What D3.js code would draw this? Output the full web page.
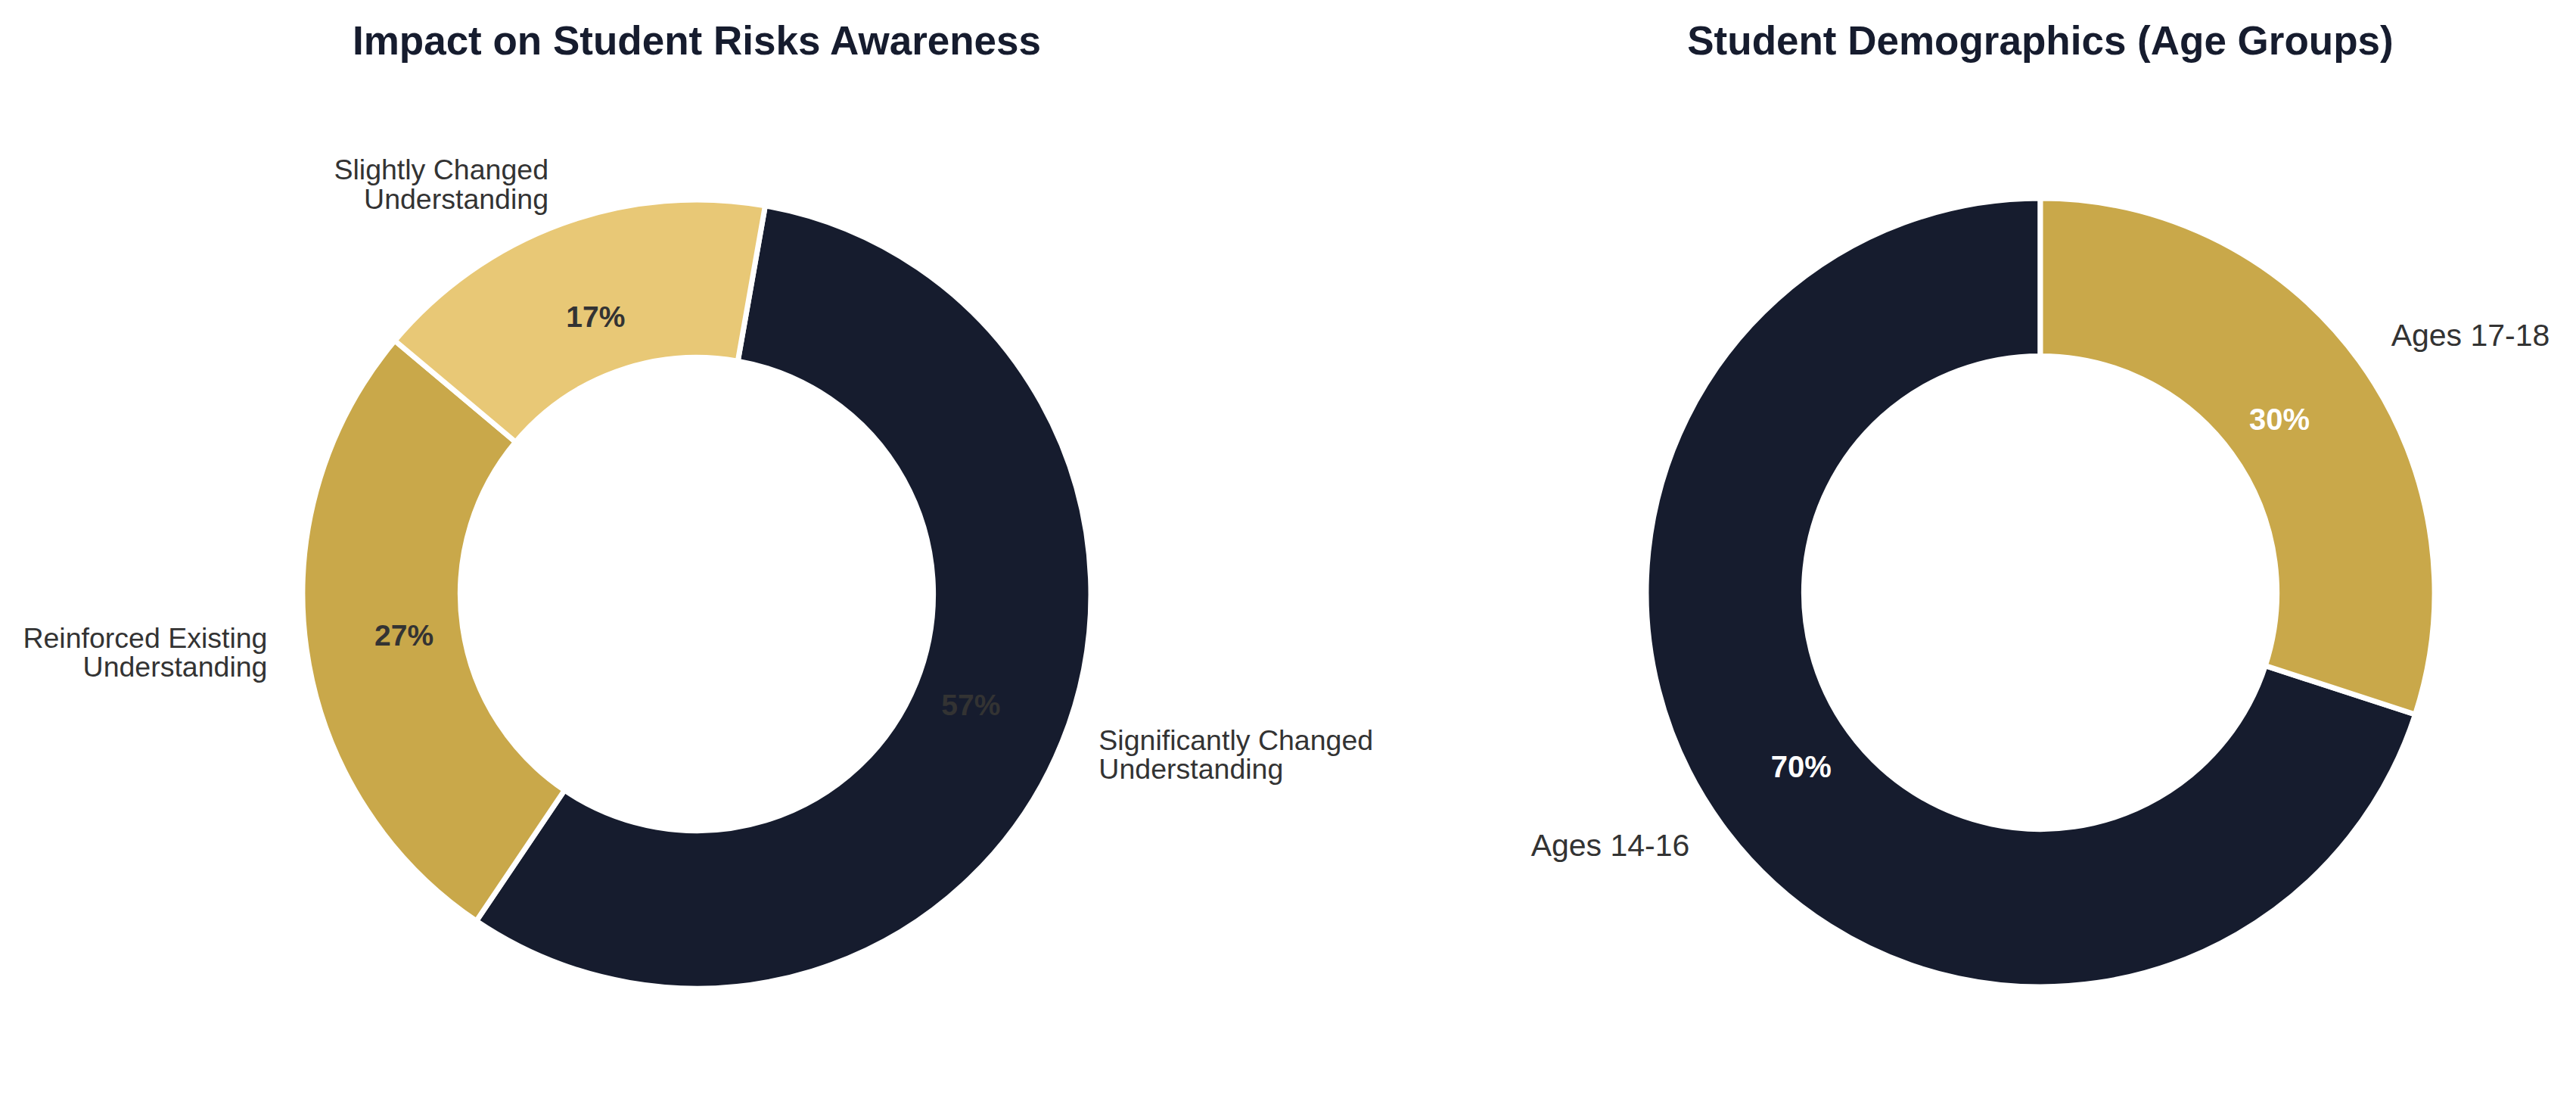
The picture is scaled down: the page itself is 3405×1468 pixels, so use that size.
<!DOCTYPE html>
<html>
<head>
<meta charset="utf-8">
<script src="https://cdn.jsdelivr.net/npm/d3@7"></script>
<style>
  body { margin: 0; background: #fff; }
  text { font-family: "Liberation Sans", Arial, sans-serif; }
</style>
</head>
<body>
<div id="chart"></div>
<script>
var width = 3405,
	height = 1468;

// left donut: impact on risk awareness (counts out of 30 students)
var impactCategories = ['Significantly Changed\nUnderstanding', 'Reinforced Existing\nUnderstanding', 'Slightly Changed\nUnderstanding'];
var impactValues = [17, 8, 5];

// right donut: age groups (percent)
var ageCategories = ['Ages 14-16', 'Ages 17-18'];
var ageValues = [70, 30];

var navy = '#161c2e',
	gold = '#c9a84a',
	lightGold = '#e8c876';

var svg = d3.select('#chart').append('svg')
	.attr('width', width)
	.attr('height', height)
	.style('background', '#fff');

var deg = Math.PI / 180;

function drawDonut(opts) {
	var g = svg.append('g')
		.attr('transform', 'translate(' + opts.cx + ',' + opts.cy + ')');

	var r = opts.radius;

	var pie = d3.pie()
		.sort(null)
		.startAngle(opts.start)
		.endAngle(opts.end);

	var arcs = pie(opts.values);
	var total = d3.sum(opts.values);

	var arc = d3.arc()
		.innerRadius(r * 0.6)
		.outerRadius(r);

	g.selectAll('.slice')
		.data(arcs)
		.enter().append('path')
		.attr('class', 'slice')
		.attr('d', arc)
		.attr('fill', function(d, i) { return opts.colors[i]; })
		.attr('stroke', '#fff')
		.attr('stroke-width', 7)
		.attr('stroke-linejoin', 'miter');

	function pos(d, dist) {
		var a = (d.startAngle + d.endAngle) / 2;
		return [Math.sin(a) * r * dist, -Math.cos(a) * r * dist];
	}

	// category labels
	var labels = g.selectAll('.label')
		.data(arcs)
		.enter().append('text')
		.attr('class', 'label')
		.attr('font-size', opts.labelSize)
		.attr('fill', '#333333')
		.attr('text-anchor', function(d) { return pos(d, 1)[0] > 0 ? 'start' : 'end'; });

	labels.each(function(d, i) {
		var p = pos(d, 1.1);
		var lines = opts.categories[i].split('\n');
		var lh = opts.labelSize * 1.02;
		var t = d3.select(this);
		lines.forEach(function(line, k) {
			t.append('tspan')
				.attr('x', p[0])
				.attr('y', p[1] + (k - (lines.length - 1) / 2) * lh + opts.labelSize * 0.27)
				.text(line);
		});
	});

	// percent labels
	g.selectAll('.pct')
		.data(arcs)
		.enter().append('text')
		.attr('class', 'pct')
		.attr('x', function(d) { return pos(d, 0.75)[0]; })
		.attr('y', function(d) { return pos(d, 0.75)[1]; })
		.attr('dy', '0.36em')
		.attr('text-anchor', 'middle')
		.attr('font-size', opts.pctSize)
		.attr('font-weight', 'bold')
		.attr('fill', opts.pctColor)
		.text(function(d) { return Math.round(d.value / total * 100) + '%'; });

	svg.append('text')
		.attr('x', opts.cx)
		.attr('y', 72)
		.attr('text-anchor', 'middle')
		.attr('font-size', 53)
		.attr('font-weight', 'bold')
		.attr('fill', navy)
		.text(opts.title);
}

drawDonut({
	title: 'Impact on Student Risks Awareness',
	cx: 921, cy: 785, radius: 521,
	start: 10 * deg, end: 370 * deg,
	values: impactValues,
	categories: impactCategories,
	colors: [navy, gold, lightGold],
	labelSize: 37.5,
	pctSize: 39,
	pctColor: '#333333'
});

drawDonut({
	title: 'Student Demographics (Age Groups)',
	cx: 2697, cy: 783, radius: 521,
	start: 0, end: -360 * deg,
	values: ageValues,
	categories: ageCategories,
	colors: [navy, gold],
	labelSize: 41,
	pctSize: 40,
	pctColor: '#ffffff'
});
</script>
</body>
</html>
